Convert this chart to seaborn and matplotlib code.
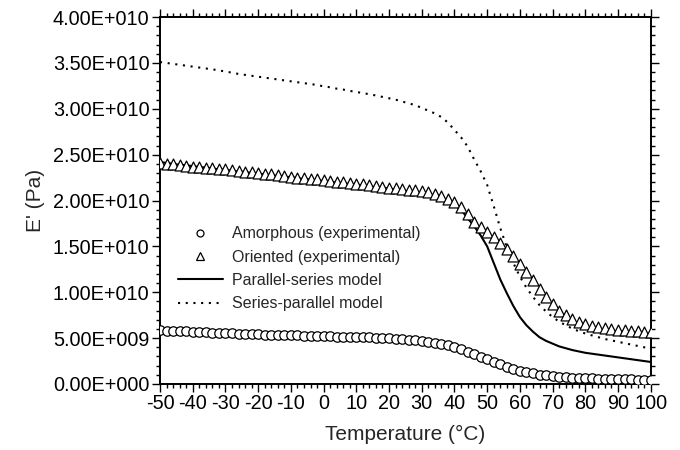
import matplotlib
matplotlib.use("Agg")
import matplotlib.pyplot as plt
import seaborn as sns
import pandas as pd
from matplotlib.lines import Line2D
from matplotlib.ticker import MultipleLocator, FuncFormatter

# Temperature (°C), one reading every 2 degrees
temperature = list(range(-50, 101, 2))

# Storage modulus E' in units of 1e10 Pa
amorphous = [0.585, 0.582, 0.579, 0.576, 0.573, 0.570, 0.567, 0.564, 0.561, 0.558,
             0.555, 0.552, 0.549, 0.547, 0.544, 0.542, 0.539, 0.537, 0.535, 0.533,
             0.531, 0.529, 0.527, 0.525, 0.523, 0.521, 0.519, 0.517, 0.515, 0.513,
             0.511, 0.509, 0.507, 0.504, 0.501, 0.498, 0.494, 0.490, 0.485, 0.479,
             0.472, 0.463, 0.452, 0.438, 0.421, 0.400, 0.377, 0.352, 0.325, 0.297,
             0.268, 0.240, 0.213, 0.188, 0.166, 0.146, 0.129, 0.115, 0.103, 0.093,
             0.085, 0.079, 0.074, 0.070, 0.066, 0.063, 0.060, 0.058, 0.056, 0.054,
             0.052, 0.050, 0.049, 0.048, 0.047, 0.046]

oriented = [2.41, 2.40, 2.395, 2.39, 2.38, 2.37, 2.365, 2.36, 2.35, 2.345,
            2.34, 2.33, 2.32, 2.315, 2.31, 2.30, 2.29, 2.285, 2.28, 2.27,
            2.26, 2.25, 2.245, 2.24, 2.23, 2.22, 2.21, 2.205, 2.20, 2.19,
            2.18, 2.175, 2.17, 2.16, 2.15, 2.14, 2.135, 2.13, 2.12, 2.11,
            2.10, 2.09, 2.07, 2.05, 2.02, 1.98, 1.93, 1.85, 1.77, 1.71,
            1.66, 1.60, 1.54, 1.47, 1.40, 1.31, 1.22, 1.13, 1.04, 0.95,
            0.87, 0.80, 0.75, 0.71, 0.68, 0.655, 0.635, 0.62, 0.61, 0.60,
            0.59, 0.585, 0.58, 0.575, 0.57, 0.565]

parallel_series = [2.42, 2.41, 2.40, 2.39, 2.385, 2.375, 2.365, 2.36, 2.35, 2.34,
                   2.335, 2.325, 2.315, 2.31, 2.30, 2.295, 2.285, 2.275, 2.27, 2.26,
                   2.255, 2.245, 2.235, 2.23, 2.22, 2.215, 2.205, 2.195, 2.19, 2.18,
                   2.175, 2.165, 2.155, 2.145, 2.14, 2.13, 2.12, 2.11, 2.10, 2.09,
                   2.08, 2.07, 2.05, 2.02, 1.99, 1.95, 1.90, 1.81, 1.72, 1.62,
                   1.50, 1.32, 1.14, 0.99, 0.85, 0.73, 0.64, 0.57, 0.51, 0.47,
                   0.44, 0.41, 0.39, 0.37, 0.355, 0.34, 0.33, 0.32, 0.31, 0.30,
                   0.29, 0.28, 0.27, 0.26, 0.25, 0.24]

series_parallel = [3.51, 3.50, 3.49, 3.48, 3.47, 3.46, 3.45, 3.44, 3.43, 3.42,
                   3.405, 3.395, 3.38, 3.37, 3.36, 3.35, 3.34, 3.33, 3.32, 3.31,
                   3.30, 3.29, 3.28, 3.27, 3.26, 3.245, 3.235, 3.22, 3.21, 3.195,
                   3.185, 3.17, 3.16, 3.145, 3.13, 3.115, 3.10, 3.08, 3.06, 3.04,
                   3.01, 2.98, 2.95, 2.91, 2.85, 2.77, 2.69, 2.59, 2.45, 2.32,
                   2.17, 1.94, 1.70, 1.49, 1.32, 1.17, 1.05, 0.95, 0.86, 0.79,
                   0.73, 0.68, 0.64, 0.605, 0.575, 0.55, 0.53, 0.51, 0.49, 0.475,
                   0.46, 0.445, 0.43, 0.415, 0.40, 0.385]

df = pd.DataFrame({
    'T': temperature,
    'amorphous': [v * 1e10 for v in amorphous],
    'oriented': [v * 1e10 for v in oriented],
    'parallel_series': [v * 1e10 for v in parallel_series],
    'series_parallel': [v * 1e10 for v in series_parallel],
})

sns.set_theme(style='ticks')
plt.rcParams['font.family'] = ['Liberation Sans', 'DejaVu Sans']
plt.rcParams['axes.unicode_minus'] = False

fig = plt.figure(figsize=(6.8, 4.5), dpi=100)
ax = fig.add_axes([0.2353, 0.1467, 0.7217, 0.8153])

sns.lineplot(data=df, x='T', y='series_parallel', ax=ax, color='black',
             linewidth=1.5, linestyle=(0, (1, 2.7)))
sns.lineplot(data=df, x='T', y='parallel_series', ax=ax, color='black',
             linewidth=1.5)
sns.scatterplot(data=df, x='T', y='oriented', ax=ax, marker='^', s=62,
                facecolor='white', edgecolor='black', linewidth=0.9, zorder=3)
sns.scatterplot(data=df, x='T', y='amorphous', ax=ax, marker='o', s=46,
                facecolor='white', edgecolor='black', linewidth=0.9, zorder=3)

ax.set_xlim(-50, 100)
ax.set_ylim(0, 4e10)
ax.xaxis.set_major_locator(MultipleLocator(10))
ax.xaxis.set_minor_locator(MultipleLocator(2))
ax.yaxis.set_major_locator(MultipleLocator(5e9))
ax.yaxis.set_minor_locator(MultipleLocator(1e9))


def sci_label(v, pos):
    if v == 0:
        return '0.00E+000'
    exp = 0
    m = abs(v)
    while m >= 10:
        m /= 10
        exp += 1
    while m < 1:
        m *= 10
        exp -= 1
    sign = '-' if v < 0 else ''
    return f"{sign}{m:.2f}E{'+' if exp >= 0 else '-'}{abs(exp):03d}"


ax.yaxis.set_major_formatter(FuncFormatter(sci_label))
ax.xaxis.set_major_formatter(FuncFormatter(lambda v, p: f"{int(round(v))}"))

for s in ax.spines.values():
    s.set_visible(True)
    s.set_linewidth(1.4)
    s.set_color('black')
ax.tick_params(which='both', direction='out', top=True, right=True,
               labeltop=False, labelright=False, colors='black')
ax.tick_params(which='major', length=5.5, width=1.0, labelsize=14.3, pad=2)
ax.tick_params(which='minor', length=3, width=1.0)

ax.set_xlabel('Temperature (°C)', fontsize=15, labelpad=8)
ax.set_ylabel("E' (Pa)", fontsize=15, labelpad=6)

handles = [
    Line2D([], [], linestyle='none', marker='o', markersize=5,
           markerfacecolor='white', markeredgecolor='black', markeredgewidth=0.9),
    Line2D([], [], linestyle='none', marker='^', markersize=5.5,
           markerfacecolor='white', markeredgecolor='black', markeredgewidth=0.9),
    Line2D([], [], color='black', linewidth=1.5),
    Line2D([], [], color='black', linewidth=1.5, linestyle=(0, (1, 2.7))),
]
labels = ['Amorphous (experimental)', 'Oriented (experimental)',
          'Parallel-series model', 'Series-parallel model']
ax.legend(handles, labels, loc='upper left', bbox_to_anchor=(0.0367, 0.43),
          frameon=False, fontsize=11.5, handlelength=2.8, handletextpad=0.55,
          labelspacing=0.52, borderpad=0, borderaxespad=0)

fig.savefig('out.png', dpi=100)
